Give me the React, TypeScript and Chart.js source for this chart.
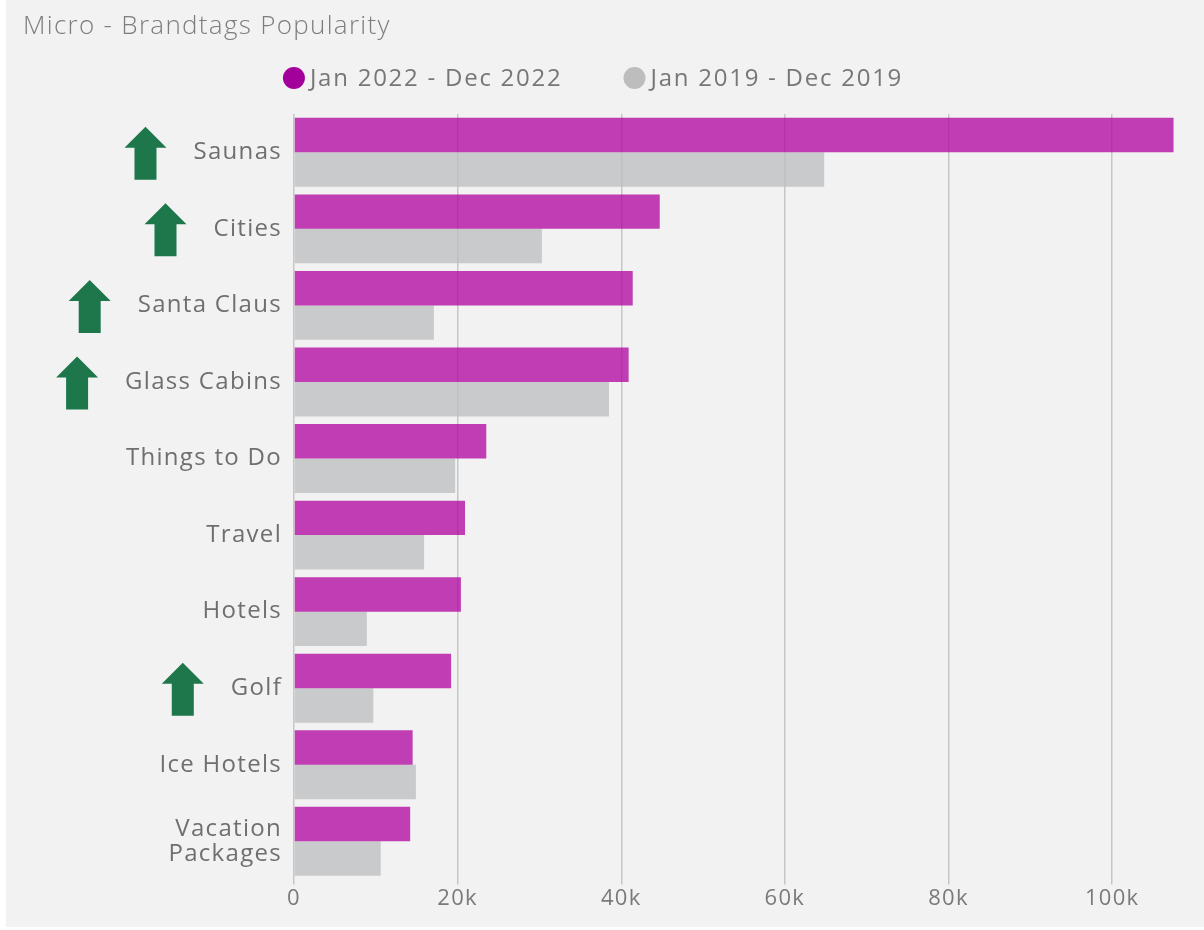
import React, { useEffect, useRef } from 'react';
import { Chart, registerables } from 'chart.js';

Chart.register(...registerables);

const chartTitle = 'Micro - Brandtags Popularity';
const categories: (string | string[])[] = [
  'Saunas',
  'Cities',
  'Santa Claus',
  'Glass Cabins',
  'Things to Do',
  'Travel',
  'Hotels',
  'Golf',
  'Ice Hotels',
  ['Vacation', 'Packages'],
];
const seriesLabels = ['Jan 2022 - Dec 2022', 'Jan 2019 - Dec 2019'];
const values2022 = [107500, 44700, 41400, 40900, 23500, 20900, 20400, 19200, 14500, 14200];
const values2019 = [64800, 30300, 17100, 38500, 19700, 15900, 8900, 9700, 14900, 10600];
const risingFlags = [true, true, true, true, false, false, false, true, false, false];
const xTickValues = [0, 20000, 40000, 60000, 80000, 100000];
const xTickLabels = ['0', '20k', '40k', '60k', '80k', '100k'];
const axisMax = 107800;

const FONT = "'Open Sans', 'DejaVu Sans', sans-serif";
const SPACING = '1.3px';
const legendColors = ['#a3009b', '#bdbdbd'];

const spacingPlugin = {
  id: 'letterSpacing',
  beforeUpdate(chart: any) {
    (chart.ctx as any).letterSpacing = SPACING;
  },
  beforeLayout(chart: any) {
    (chart.ctx as any).letterSpacing = SPACING;
  },
  afterLayout(chart: any) {
    if (chart.titleBlock) {
      chart.titleBlock.left += 17;
      chart.titleBlock.right += 17;
    }
  },
  beforeDraw(chart: any) {
    (chart.ctx as any).letterSpacing = SPACING;
  },
};

const legendPlugin = {
  id: 'customLegend',
  afterDraw(chart: any) {
    const ctx = chart.ctx;
    ctx.save();
    (ctx as any).letterSpacing = '1.75px';
    ctx.font = `24px ${FONT}`;
    ctx.textBaseline = 'middle';
    ctx.textAlign = 'left';
    const diam = 22;
    const gapText = 5;
    const gapItem = 61;
    const items = chart.data.datasets.map((ds: any, i: number) => ({
      text: ds.label as string,
      color: legendColors[i],
      w: ctx.measureText(ds.label).width,
    }));
    const total = items.reduce((s: number, it: any) => s + diam + gapText + it.w, 0) + gapItem * (items.length - 1);
    let x = chart.width / 2 - 5 - total / 2;
    const y = 78;
    items.forEach((it: any) => {
      ctx.fillStyle = it.color;
      ctx.beginPath();
      ctx.arc(x + diam / 2, y, diam / 2, 0, Math.PI * 2);
      ctx.fill();
      x += diam + gapText;
      ctx.fillStyle = '#777777';
      ctx.fillText(it.text, x, y + 1);
      x += it.w + gapItem;
    });
    ctx.restore();
  },
};

const arrowPlugin = {
  id: 'risingArrows',
  afterDraw(chart: any) {
    const ctx = chart.ctx;
    const yScale = chart.scales.y;
    ctx.save();
    (ctx as any).letterSpacing = SPACING;
    ctx.font = `24px ${FONT}`;
    risingFlags.forEach((flag, i) => {
      if (!flag) return;
      const label = categories[i];
      const lines = Array.isArray(label) ? label : [label];
      const w = Math.max(...lines.map((l) => ctx.measureText(l).width));
      const labelLeft = yScale.right - 12 - w;
      const right = labelLeft - 27;
      const cy = yScale.getPixelForValue(i) + 1;
      const aw = 42;
      const ah = 53;
      const headH = 21;
      const shaftW = 22;
      const left = right - aw;
      const cx = left + aw / 2;
      const top = cy - ah / 2;
      ctx.fillStyle = '#1d774a';
      ctx.beginPath();
      ctx.moveTo(cx, top);
      ctx.lineTo(right, top + headH);
      ctx.lineTo(cx + shaftW / 2, top + headH);
      ctx.lineTo(cx + shaftW / 2, top + ah);
      ctx.lineTo(cx - shaftW / 2, top + ah);
      ctx.lineTo(cx - shaftW / 2, top + headH);
      ctx.lineTo(left, top + headH);
      ctx.closePath();
      ctx.fill();
    });
    ctx.restore();
  },
};

export default function App() {
  const canvasRef = useRef<HTMLCanvasElement | null>(null);

  useEffect(() => {
    if (!canvasRef.current) return;
    const chart = new Chart(canvasRef.current, {
      type: 'bar',
      data: {
        labels: categories,
        datasets: [
          {
            label: seriesLabels[0],
            data: values2022,
            backgroundColor: 'rgba(175,0,158,0.75)',
            borderWidth: 0,
            categoryPercentage: 0.9,
            barPercentage: 1.0,
          },
          {
            label: seriesLabels[1],
            data: values2019,
            backgroundColor: 'rgba(190,191,193,0.8)',
            borderWidth: 0,
            categoryPercentage: 0.9,
            barPercentage: 1.0,
          },
        ],
      },
      options: {
        indexAxis: 'y',
        animation: false,
        responsive: false,
        maintainAspectRatio: false,
        layout: { padding: { left: 0, right: 14, top: 0, bottom: 14 } },
        plugins: {
          title: {
            display: true,
            text: chartTitle,
            align: 'start',
            color: '#7d7d7d',
            font: { family: FONT, size: 26, weight: '300' as any, lineHeight: 1.2 },
            padding: { top: 11, bottom: 71.8 },
          },
          legend: { display: false },
          tooltip: { enabled: false },
        },
        scales: {
          x: {
            type: 'linear',
            min: 0,
            max: axisMax,
            afterBuildTicks: (scale: any) => {
              scale.ticks = xTickValues.map((v) => ({ value: v }));
            },
            grid: {
              color: '#c6c6c6',
              lineWidth: 1.5,
              drawTicks: true,
              tickLength: 5,
            },
            border: { display: false },
            ticks: {
              color: '#7a7a7a',
              padding: 1,
              font: { family: FONT, size: 22 },
              callback: (v: any) => {
                const idx = xTickValues.indexOf(Number(v));
                return idx >= 0 ? xTickLabels[idx] : '';
              },
            },
          },
          y: {
            type: 'category',
            grid: { display: false, drawTicks: false },
            border: { display: false },
            ticks: {
              color: '#6f6f6f',
              padding: 12,
              font: { family: FONT, size: 24, lineHeight: 1.05 },
            },
            afterFit: (scale: any) => {
              scale.width = 288;
            },
          },
        },
      },
      plugins: [spacingPlugin, legendPlugin, arrowPlugin],
    });
    return () => chart.destroy();
  }, []);

  return (
    <div style={{ position: 'absolute', left: 0, top: 0, width: 1204, height: 930, background: '#ffffff' }}>
      <div style={{ position: 'absolute', left: 6, top: 0, width: 1198, height: 927, background: '#f2f2f2' }}>
        <canvas ref={canvasRef} width={1184} height={927} style={{ display: 'block' }} />
      </div>
    </div>
  );
}
